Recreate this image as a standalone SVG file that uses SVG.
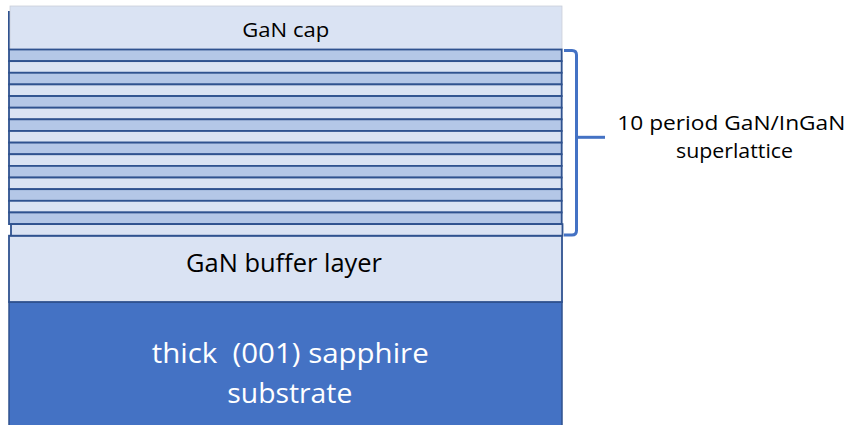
<svg xmlns="http://www.w3.org/2000/svg" width="847" height="425" viewBox="0 0 847 425">
<style>
text{font-family:"Open Sans","Liberation Sans",sans-serif;}
.lt{fill:#DAE3F3;stroke:#2F528F;stroke-width:1.8;}
.dk{fill:#B4C7E7;stroke:#2F528F;stroke-width:1.8;}
.blk{fill:#000000;}
.wht{fill:#FFFFFF;}
.br{fill:none;stroke:#4472C4;stroke-width:3;stroke-linejoin:round;}
</style>
<rect x="0" y="0" width="847" height="425" fill="#FFFFFF"/>
<g id="substrate">
<rect x="9" y="302" width="553" height="130" fill="#4472C4" stroke="#2F528F" stroke-width="1.5"/>
<text class="wht" x="151.7" y="363.3" font-size="28" textLength="277" lengthAdjust="spacingAndGlyphs" xml:space="preserve">thick  (001) sapphire</text>
<text class="wht" x="227.3" y="403.3" font-size="28" textLength="125" lengthAdjust="spacingAndGlyphs">substrate</text>
</g>
<g id="buffer">
<rect class="lt" x="9" y="235.7" width="553" height="66.3"/>
<text class="blk" x="186" y="272.3" font-size="25" textLength="196" lengthAdjust="spacingAndGlyphs">GaN buffer layer</text>
</g>
<g id="cap">
<line x1="9" y1="11" x2="9" y2="50" stroke="#2F528F" stroke-width="2"/>
<rect x="10" y="6" width="552" height="43.5" fill="#DAE3F3" stroke="#C8CDD6" stroke-width="0.75"/>
<text class="blk" x="242.3" y="36.7" font-size="20" textLength="87" lengthAdjust="spacingAndGlyphs">GaN cap</text>
</g>
<g id="superlattice">
<rect class="dk" x="9" y="49.5" width="552.7" height="11.64"/>
<rect class="lt" x="9" y="61.14" width="552.7" height="11.64"/>
<rect class="dk" x="9" y="72.78" width="552.7" height="11.64"/>
<rect class="lt" x="9" y="84.42" width="552.7" height="11.64"/>
<rect class="dk" x="9" y="96.06" width="552.7" height="11.64"/>
<rect class="lt" x="9" y="107.7" width="552.7" height="11.64"/>
<rect class="dk" x="9" y="119.34" width="552.7" height="11.64"/>
<rect class="lt" x="9" y="130.98" width="552.7" height="11.64"/>
<rect class="dk" x="9" y="142.62" width="552.7" height="11.64"/>
<rect class="lt" x="9" y="154.26" width="552.7" height="11.64"/>
<rect class="dk" x="9" y="165.9" width="552.7" height="11.64"/>
<rect class="lt" x="9" y="177.54" width="552.7" height="11.64"/>
<rect class="dk" x="9" y="189.18" width="552.7" height="11.64"/>
<rect class="lt" x="9" y="200.82" width="552.7" height="11.64"/>
<rect class="dk" x="9" y="212.46" width="552.7" height="11.64"/>
<rect class="lt" x="11" y="224.1" width="551.5" height="11.6"/>
</g>
<g id="connectors">
<path class="br" d="M564,50.5 H572 Q576.5,50.5 576.5,55 V230.5 Q576.5,235 572,235 H564"/>
<path class="br" d="M576.5,137.3 H605"/>
</g>
<g id="label">
<text class="blk" x="617.3" y="130" font-size="19.5" textLength="228" lengthAdjust="spacingAndGlyphs">10 period GaN/InGaN</text>
<text class="blk" x="676" y="158.3" font-size="19.5" textLength="117" lengthAdjust="spacingAndGlyphs">superlattice</text>
</g>
</svg>
